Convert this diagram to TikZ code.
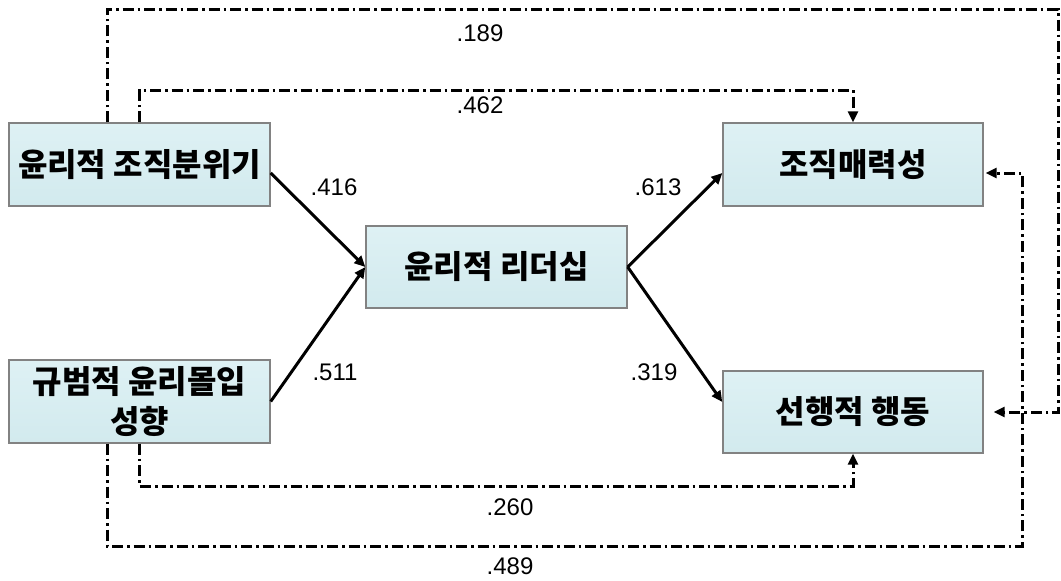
\documentclass[tikz,border=0pt]{standalone}
\usepackage{fontspec}
\setmainfont{Liberation Sans}
\newfontfamily\kr{Noto Sans CJK KR}
\usetikzlibrary{arrows.meta}
\definecolor{boxfill}{RGB}{210,234,238}
\definecolor{boxtop}{RGB}{222,241,244}
\definecolor{boxline}{RGB}{130,130,130}
\tikzset{
  var/.style={draw=boxline,line width=1.4pt,top color=boxtop,bottom color=boxfill,
    minimum width=261pt,minimum height=83pt,inner sep=0pt,align=center,
    font=\kr\bfseries\fontsize{32}{40}\selectfont},
  coef/.style={inner sep=1pt,font=\fontsize{24}{27}\selectfont},
  effect/.style={line width=3pt,-{Triangle[length=11pt,width=10pt]}},
  indirect/.style={line width=3pt,dash pattern=on 11pt off 4pt on 2.5pt off 4pt,
    -{Triangle[length=11pt,width=10pt]}}
}
\begin{document}
\begin{tikzpicture}[x=1pt,y=-1pt]
  \useasboundingbox (0,0) rectangle (1061,581);
  \draw
    (139.5,164.5) node[var] (clim){윤리적 조직분위기}
    (139.5,401.5) node[var] (comm){규범적 윤리몰입\\성향}
    (496.5,267) node[var,minimum height=82pt] (lead){윤리적 리더십}
    (853,164.5) node[var,minimum width=260pt] (attr){조직매력성}
    (853,412) node[var,minimum width=260pt,minimum height=82pt] (proa){선행적 행동};
  \coordinate (t189) at (1058,9);
  \coordinate (t462) at (139.5,90);
  \coordinate (b260) at (139.5,486);
  \coordinate (b489) at (1022,546);
  \begin{scope}[effect]
    \draw ([yshift=-8.5pt]clim.east) to (lead.west);
    \draw (comm.east) to (lead.west);
    \draw (lead.east) to ([yshift=-8.5pt]attr.west);
    \draw (lead.east) to ([yshift=10pt]proa.west);
  \end{scope}
  \begin{scope}[indirect]
    \draw ([xshift=-32.5pt]clim.north) |- (t189) |- ([xshift=10pt]proa.east);
    \draw (clim.north) -- (t462) -| (attr.north);
    \draw (comm.south) -- (b260) -| (proa.south);
    \draw ([xshift=-32.5pt]comm.south) |- (b489) |- ([xshift=2pt,yshift=-8.5pt]attr.east);
  \end{scope}
  \draw
    (334,187) node[coef] (c416){.416}
    (335,372) node[coef] (c511){.511}
    (658,187) node[coef] (c613){.613}
    (654,372) node[coef] (c319){.319}
    (480,33) node[coef] (c189){.189}
    (480,105) node[coef] (c462){.462}
    (510,507) node[coef] (c260){.260}
    (510,566) node[coef] (c489){.489};
\end{tikzpicture}
\end{document}
